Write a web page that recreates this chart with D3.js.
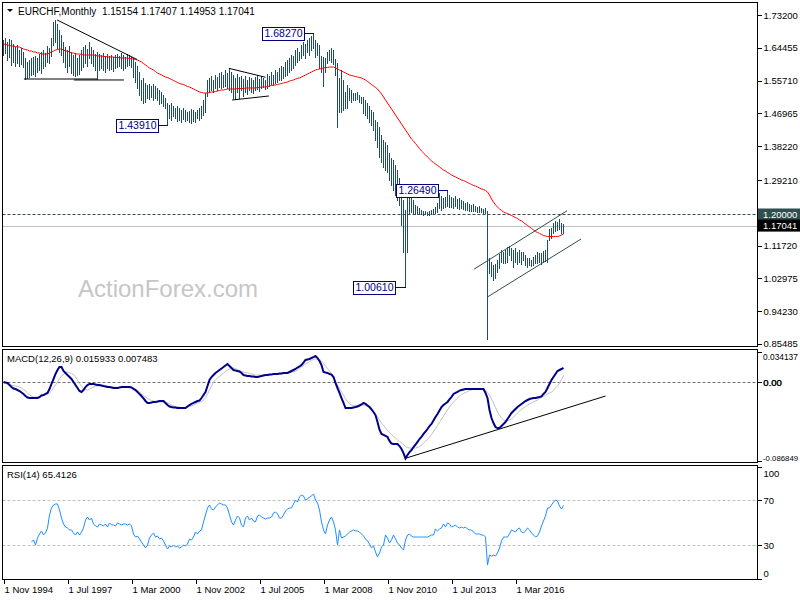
<!DOCTYPE html>
<html><head><meta charset="utf-8">
<script src="https://cdn.jsdelivr.net/npm/d3@7"></script>
<style>
html,body{margin:0;padding:0;background:#fff;}
svg{display:block;font-family:"Liberation Sans",Arial,sans-serif;}
</style></head><body>
<svg id="chart" width="800" height="600"></svg>
<script>
// ---------------- DATA ----------------
const symbolName = "EURCHF,Monthly";
const lastOHLC = ["1.15154", "1.17407", "1.14953", "1.17041"];

const highs = [
1.665,1.671,1.660,1.668,1.665,1.655,1.647,1.652,1.639,1.644,
1.633,1.617,1.607,1.612,1.617,1.620,1.623,1.617,1.628,1.633,
1.639,1.631,1.649,1.644,1.671,1.713,1.719,1.708,1.692,1.679,
1.660,1.647,1.639,1.649,1.633,1.625,1.631,1.617,1.625,1.639,
1.647,1.652,1.641,1.660,1.647,1.639,1.628,1.633,1.628,1.625,
1.631,1.623,1.628,1.623,1.625,1.620,1.625,1.628,1.623,1.631,
1.625,1.620,1.628,1.625,1.620,1.617,1.607,1.596,1.580,1.559,
1.564,1.551,1.545,1.548,1.543,1.548,1.543,1.537,1.532,1.527,
1.519,1.511,1.497,1.492,1.497,1.489,1.484,1.489,1.484,1.479,
1.484,1.479,1.473,1.476,1.481,1.479,1.473,1.479,1.484,1.489,
1.505,1.524,1.559,1.564,1.569,1.559,1.572,1.567,1.577,1.580,
1.572,1.585,1.577,1.591,1.580,1.572,1.564,1.575,1.567,1.569,
1.561,1.569,1.559,1.567,1.564,1.559,1.567,1.572,1.561,1.569,
1.564,1.559,1.575,1.569,1.580,1.572,1.585,1.580,1.591,1.596,
1.593,1.607,1.612,1.617,1.625,1.623,1.639,1.644,1.633,1.652,
1.660,1.655,1.665,1.671,1.676,1.6827,1.665,1.657,1.652,1.623,
1.620,1.617,1.633,1.639,1.644,1.639,1.615,1.604,1.564,1.585,
1.559,1.527,1.545,1.537,1.532,1.524,1.524,1.527,1.519,1.513,
1.513,1.505,1.497,1.489,1.479,1.473,1.452,1.447,1.433,1.412,
1.399,1.393,1.385,1.364,1.351,1.345,1.332,1.319,1.297,1.252,
1.239,1.212,1.252,1.260,1.252,1.239,1.225,1.223,1.217,1.212,
1.209,1.209,1.207,1.209,1.212,1.215,1.220,1.231,1.257,1.249,
1.244,1.247,1.2649,1.252,1.247,1.244,1.249,1.241,1.244,1.239,
1.236,1.231,1.233,1.228,1.225,1.228,1.223,1.220,1.223,1.217,
1.215,1.217,1.209,1.084,1.073,1.065,1.068,1.079,1.095,1.105,
1.100,1.105,1.113,1.116,1.111,1.105,1.111,1.100,1.105,1.100,
1.100,1.092,1.084,1.084,1.079,1.087,1.092,1.100,1.097,1.097,
1.103,1.105,1.132,1.161,1.164,1.177,1.183,1.180,1.188,1.177,1.17407];

const lows = [
1.625,1.631,1.612,1.620,1.599,1.607,1.596,1.604,1.596,1.601,
1.593,1.561,1.564,1.567,1.572,1.575,1.569,1.580,1.585,1.577,
1.591,1.596,1.607,1.604,1.623,1.652,1.660,1.644,1.633,1.625,
1.607,1.593,1.580,1.596,1.577,1.572,1.569,1.572,1.575,1.585,
1.593,1.604,1.596,1.617,1.604,1.596,1.585,1.561,1.585,1.591,
1.585,1.580,1.591,1.585,1.588,1.583,1.591,1.593,1.596,1.591,
1.585,1.591,1.596,1.599,1.593,1.567,1.553,1.537,1.519,1.505,
1.497,1.500,1.511,1.508,1.513,1.505,1.511,1.505,1.495,1.497,
1.489,1.484,1.4391,1.457,1.452,1.463,1.457,1.449,1.452,1.447,
1.455,1.449,1.452,1.447,1.444,1.449,1.447,1.457,1.452,1.457,
1.465,1.473,1.516,1.527,1.532,1.527,1.537,1.532,1.540,1.537,
1.540,1.543,1.537,1.532,1.527,1.511,1.508,1.527,1.511,1.532,
1.516,1.527,1.521,1.532,1.527,1.524,1.532,1.535,1.529,1.537,
1.540,1.535,1.537,1.543,1.548,1.545,1.551,1.553,1.559,1.559,
1.564,1.569,1.572,1.580,1.585,1.591,1.599,1.607,1.612,1.617,
1.625,1.617,1.633,1.625,1.639,1.644,1.620,1.625,1.591,1.580,
1.543,1.580,1.604,1.612,1.607,1.601,1.572,1.433,1.473,1.473,
1.479,1.484,1.484,1.505,1.500,1.505,1.505,1.508,1.500,1.497,
1.471,1.465,1.457,1.447,1.439,1.425,1.399,1.380,1.353,1.340,
1.327,1.319,1.313,1.292,1.279,1.265,1.252,1.239,1.225,1.172,
1.100,1.0061,1.100,1.201,1.207,1.204,1.201,1.201,1.201,1.201,
1.199,1.201,1.199,1.199,1.201,1.201,1.204,1.207,1.217,1.212,
1.217,1.220,1.223,1.220,1.220,1.217,1.223,1.217,1.215,1.217,
1.215,1.212,1.212,1.209,1.209,1.209,1.209,1.207,1.207,1.207,
1.204,1.204,0.868,1.044,1.036,1.025,1.031,1.047,1.057,1.073,
1.071,1.071,1.073,1.092,1.079,1.060,1.073,1.068,1.073,1.068,
1.079,1.065,1.060,1.065,1.063,1.065,1.071,1.071,1.073,1.068,
1.073,1.076,1.073,1.132,1.137,1.151,1.156,1.159,1.161,1.151,1.14953];

const maValues = [
1.6547,1.6533,1.6520,1.6507,1.6493,1.6493,1.6480,1.6467,1.6467,1.6440,
1.6413,1.6400,1.6387,1.6360,1.6360,1.6333,1.6333,1.6307,1.6307,1.6280,
1.6280,1.6280,1.6280,1.6307,1.6333,1.6360,1.6387,1.6400,1.6413,1.6413,
1.6387,1.6360,1.6360,1.6333,1.6307,1.6307,1.6280,1.6280,1.6280,1.6267,
1.6253,1.6253,1.6253,1.6253,1.6253,1.6253,1.6240,1.6227,1.6227,1.6227,
1.6213,1.6213,1.6200,1.6200,1.6200,1.6200,1.6187,1.6187,1.6187,1.6173,
1.6173,1.6173,1.6173,1.6160,1.6147,1.6147,1.6133,1.6120,1.6093,1.6067,
1.6027,1.5987,1.5947,1.5907,1.5880,1.5853,1.5813,1.5773,1.5747,1.5720,
1.5693,1.5667,1.5653,1.5627,1.5600,1.5573,1.5547,1.5520,1.5493,1.5480,
1.5467,1.5440,1.5413,1.5400,1.5373,1.5347,1.5320,1.5293,1.5267,1.5253,
1.5240,1.5240,1.5240,1.5253,1.5267,1.5267,1.5280,1.5293,1.5307,1.5320,
1.5320,1.5333,1.5347,1.5347,1.5347,1.5347,1.5347,1.5360,1.5360,1.5360,
1.5360,1.5373,1.5373,1.5373,1.5373,1.5373,1.5373,1.5387,1.5387,1.5400,
1.5400,1.5400,1.5413,1.5427,1.5440,1.5453,1.5453,1.5467,1.5480,1.5493,
1.5507,1.5520,1.5533,1.5560,1.5573,1.5587,1.5613,1.5627,1.5640,1.5667,
1.5693,1.5720,1.5747,1.5773,1.5800,1.5827,1.5853,1.5867,1.5880,1.5893,
1.5907,1.5920,1.5920,1.5933,1.5933,1.5933,1.5907,1.5880,1.5853,1.5827,
1.5800,1.5773,1.5747,1.5720,1.5707,1.5693,1.5680,1.5667,1.5653,1.5640,
1.5613,1.5587,1.5547,1.5507,1.5467,1.5427,1.5387,1.5347,1.5280,1.5213,
1.5133,1.5053,1.4973,1.4893,1.4813,1.4733,1.4653,1.4573,1.4493,1.4413,
1.4333,1.4253,1.4173,1.4093,1.4013,1.3960,1.3893,1.3827,1.3760,1.3693,
1.3640,1.3587,1.3533,1.3480,1.3427,1.3387,1.3347,1.3307,1.3267,1.3227,
1.3187,1.3160,1.3120,1.3093,1.3053,1.3027,1.3000,1.2973,1.2947,1.2920,
1.2907,1.2880,1.2853,1.2827,1.2800,1.2773,1.2760,1.2733,1.2707,1.2680,
1.2667,1.2640,1.2600,1.2520,1.2413,1.2333,1.2253,1.2200,1.2147,1.2107,
1.2067,1.2040,1.2027,1.2000,1.1973,1.1947,1.1920,1.1893,1.1853,1.1827,
1.1787,1.1747,1.1707,1.1667,1.1627,1.1587,1.1547,1.1520,1.1493,1.1467,
1.1440,1.1427,1.1413,1.1413,1.1413,1.1413,1.1413,1.1413,1.1427,1.1453,1.1480];

const macdMain = [
0.0003,-0.0003,-0.0008,-0.0031,-0.0053,-0.0069,-0.0075,-0.0086,-0.0097,-0.0114,
-0.0130,-0.0153,-0.0169,-0.0175,-0.0175,-0.0175,-0.0175,-0.0175,-0.0164,-0.0147,
-0.0142,-0.0130,-0.0119,-0.0075,-0.0019,0.0036,0.0092,0.0136,0.0169,0.0169,
0.0125,0.0103,0.0080,0.0058,0.0036,0.0003,-0.0031,-0.0064,-0.0097,-0.0108,
-0.0086,-0.0053,-0.0031,-0.0019,-0.0019,-0.0019,-0.0025,-0.0031,-0.0031,-0.0036,
-0.0042,-0.0047,-0.0053,-0.0053,-0.0058,-0.0064,-0.0064,-0.0064,-0.0058,-0.0053,
-0.0053,-0.0053,-0.0053,-0.0053,-0.0058,-0.0075,-0.0086,-0.0108,-0.0130,-0.0153,
-0.0180,-0.0208,-0.0230,-0.0230,-0.0225,-0.0219,-0.0219,-0.0214,-0.0208,-0.0208,
-0.0208,-0.0230,-0.0253,-0.0269,-0.0275,-0.0280,-0.0280,-0.0286,-0.0286,-0.0286,
-0.0286,-0.0286,-0.0269,-0.0253,-0.0241,-0.0230,-0.0219,-0.0208,-0.0203,-0.0175,
-0.0142,-0.0108,-0.0042,0.0025,0.0058,0.0080,0.0103,0.0119,0.0136,0.0153,
0.0169,0.0186,0.0203,0.0180,0.0158,0.0136,0.0130,0.0125,0.0119,0.0103,
0.0080,0.0075,0.0069,0.0069,0.0064,0.0064,0.0058,0.0058,0.0064,0.0069,
0.0075,0.0080,0.0080,0.0086,0.0086,0.0092,0.0092,0.0092,0.0097,0.0097,
0.0103,0.0103,0.0103,0.0114,0.0125,0.0136,0.0147,0.0164,0.0175,0.0191,
0.0219,0.0247,0.0253,0.0258,0.0269,0.0280,0.0291,0.0269,0.0236,0.0191,
0.0114,0.0108,0.0103,0.0092,0.0086,0.0058,-0.0008,-0.0064,-0.0119,-0.0175,
-0.0230,-0.0286,-0.0286,-0.0286,-0.0286,-0.0280,-0.0275,-0.0269,-0.0258,-0.0247,
-0.0230,-0.0241,-0.0258,-0.0275,-0.0302,-0.0330,-0.0364,-0.0441,-0.0527,-0.0574,
-0.0585,-0.0596,-0.0607,-0.0651,-0.0680,-0.0685,-0.0685,-0.0685,-0.0708,-0.0741,
-0.0786,-0.0845,-0.0808,-0.0775,-0.0752,-0.0719,-0.0691,-0.0663,-0.0630,-0.0607,
-0.0574,-0.0547,-0.0519,-0.0486,-0.0463,-0.0425,-0.0386,-0.0352,-0.0314,-0.0275,
-0.0253,-0.0236,-0.0219,-0.0191,-0.0164,-0.0130,-0.0119,-0.0108,-0.0092,-0.0086,
-0.0080,-0.0075,-0.0075,-0.0075,-0.0075,-0.0075,-0.0075,-0.0075,-0.0075,-0.0075,
-0.0075,-0.0119,-0.0175,-0.0308,-0.0397,-0.0453,-0.0497,-0.0508,-0.0508,-0.0486,
-0.0463,-0.0441,-0.0408,-0.0375,-0.0341,-0.0319,-0.0297,-0.0275,-0.0258,-0.0241,
-0.0225,-0.0208,-0.0197,-0.0186,-0.0180,-0.0175,-0.0175,-0.0169,-0.0164,-0.0158,
-0.0130,-0.0108,-0.0064,-0.0019,0.0025,0.0058,0.0092,0.0125,0.0136,0.0147,0.015933];

const macdSignal = [
-0.0008,-0.0014,-0.0019,-0.0025,-0.0031,-0.0036,-0.0042,-0.0047,-0.0053,-0.0064,
-0.0080,-0.0097,-0.0119,-0.0142,-0.0153,-0.0164,-0.0164,-0.0164,-0.0158,-0.0153,
-0.0147,-0.0142,-0.0130,-0.0119,-0.0097,-0.0064,-0.0031,0.0003,0.0036,0.0069,
0.0092,0.0108,0.0114,0.0108,0.0097,0.0086,0.0058,0.0025,-0.0014,-0.0042,
-0.0064,-0.0080,-0.0086,-0.0075,-0.0064,-0.0053,-0.0047,-0.0042,-0.0042,-0.0042,
-0.0042,-0.0042,-0.0042,-0.0047,-0.0047,-0.0053,-0.0053,-0.0058,-0.0058,-0.0058,
-0.0058,-0.0058,-0.0058,-0.0058,-0.0058,-0.0064,-0.0075,-0.0092,-0.0108,-0.0130,
-0.0147,-0.0164,-0.0180,-0.0191,-0.0203,-0.0208,-0.0214,-0.0219,-0.0219,-0.0219,
-0.0219,-0.0225,-0.0230,-0.0241,-0.0253,-0.0264,-0.0269,-0.0275,-0.0275,-0.0280,
-0.0280,-0.0280,-0.0275,-0.0269,-0.0264,-0.0253,-0.0241,-0.0230,-0.0225,-0.0214,
-0.0197,-0.0169,-0.0130,-0.0086,-0.0042,0.0003,0.0025,0.0047,0.0064,0.0080,
0.0103,0.0119,0.0136,0.0147,0.0153,0.0158,0.0153,0.0142,0.0130,0.0119,
0.0114,0.0108,0.0103,0.0097,0.0092,0.0086,0.0080,0.0080,0.0080,0.0080,
0.0080,0.0080,0.0080,0.0080,0.0086,0.0086,0.0086,0.0092,0.0092,0.0092,
0.0097,0.0103,0.0103,0.0108,0.0114,0.0114,0.0125,0.0136,0.0153,0.0169,
0.0186,0.0203,0.0214,0.0230,0.0241,0.0253,0.0258,0.0258,0.0253,0.0236,
0.0208,0.0180,0.0153,0.0125,0.0092,0.0047,0.0008,-0.0031,-0.0069,-0.0108,
-0.0142,-0.0180,-0.0214,-0.0241,-0.0253,-0.0258,-0.0258,-0.0258,-0.0258,-0.0253,
-0.0253,-0.0258,-0.0269,-0.0286,-0.0308,-0.0330,-0.0358,-0.0386,-0.0419,-0.0452,
-0.0480,-0.0508,-0.0536,-0.0558,-0.0580,-0.0602,-0.0619,-0.0641,-0.0658,-0.0674,
-0.0691,-0.0713,-0.0724,-0.0730,-0.0730,-0.0730,-0.0730,-0.0724,-0.0713,-0.0697,
-0.0674,-0.0652,-0.0635,-0.0608,-0.0580,-0.0547,-0.0513,-0.0480,-0.0447,-0.0408,
-0.0375,-0.0341,-0.0308,-0.0275,-0.0247,-0.0219,-0.0197,-0.0175,-0.0153,-0.0136,
-0.0125,-0.0114,-0.0103,-0.0092,-0.0086,-0.0080,-0.0080,-0.0075,-0.0075,-0.0075,
-0.0075,-0.0086,-0.0114,-0.0142,-0.0186,-0.0230,-0.0280,-0.0330,-0.0364,-0.0397,
-0.0419,-0.0425,-0.0425,-0.0419,-0.0408,-0.0386,-0.0364,-0.0341,-0.0319,-0.0302,
-0.0286,-0.0269,-0.0253,-0.0241,-0.0230,-0.0219,-0.0208,-0.0197,-0.0180,-0.0169,
-0.0158,-0.0147,-0.0130,-0.0119,-0.0108,-0.0086,-0.0064,-0.0042,-0.0008,0.0031,0.007483];

const rsiValues = [
null,null,null,null,null,null,null,null,null,null,
null,null,null,null,32.9,34.7,30.2,36.4,40.0,42.7,
39.1,40.9,45.3,56.9,63.1,65.8,66.7,66.7,61.3,54.2,
48.9,46.2,45.3,43.6,43.6,40.9,39.1,41.8,39.1,41.8,
45.3,52.4,55.1,52.4,54.2,48.9,47.1,46.2,48.9,48.0,
47.1,48.9,46.2,49.8,48.0,48.0,47.1,49.8,48.9,48.0,
48.9,48.9,48.0,48.9,47.1,40.0,37.3,38.2,35.6,32.9,
30.2,27.6,30.2,36.4,39.1,40.9,37.3,38.2,35.6,36.4,
33.8,30.2,26.7,29.3,28.4,30.2,28.4,29.3,27.6,28.4,
30.2,29.3,31.1,35.6,34.7,37.3,41.8,40.0,42.7,43.6,
50.7,56.9,63.1,65.8,62.2,61.3,64.0,65.8,67.6,66.7,
65.8,65.8,63.1,56.9,50.7,48.0,52.4,56.0,54.2,48.0,
46.2,54.2,56.0,52.4,54.2,51.6,50.7,56.0,56.9,55.1,
54.2,53.3,54.2,54.2,55.1,58.7,59.6,57.8,54.2,54.2,
56.9,60.4,62.2,63.1,63.1,66.7,70.2,68.4,72.9,74.7,
73.8,70.2,71.1,72.9,73.8,75.6,70.2,67.6,61.3,50.7,
43.6,40.0,48.0,52.4,55.1,50.7,43.6,30.2,43.6,36.4,
37.3,38.2,40.0,41.8,42.7,43.6,42.7,42.7,41.8,40.0,
38.2,35.6,33.8,31.1,27.6,29.3,24.0,19.6,23.1,28.4,
30.2,39.1,36.4,32.0,34.7,39.1,35.6,32.0,30.2,27.6,
25.8,34.7,39.1,40.0,38.2,37.3,37.3,37.3,37.3,37.3,
37.3,37.3,37.3,38.2,39.1,39.1,44.4,42.7,44.4,45.3,
48.9,46.2,49.8,48.9,46.2,47.1,48.0,46.2,45.3,46.2,
45.3,46.2,44.4,43.6,43.6,41.8,40.0,40.0,40.0,39.1,
39.1,37.3,12.4,21.3,20.4,21.3,20.4,23.1,27.6,33.8,
37.3,37.3,37.3,40.0,43.6,42.7,41.8,44.4,45.3,41.8,
40.9,42.7,45.3,43.6,40.9,39.1,37.3,38.2,41.8,47.1,
51.6,56.0,63.1,63.1,65.8,68.4,70.2,69.3,64.9,62.2,65.4126];

const priceTicks = [1.73200, 1.64455, 1.55710, 1.46965, 1.38220, 1.29210, 1.11720, 1.02975, 0.94230, 0.85485];
const levelPrice = 1.20000;
const lastPrice = 1.17041;
const macdTicks = [0.034137, 0, -0.086849];
const macdTickLabels = ["0.034137", "0.00", "-0.086849"];
const rsiTicks = [100, 70, 30, 0];
const rsiLevels = [70, 30];
const xTickBars = [0, 32, 64, 96, 128, 160, 192, 224, 256];
const xTickLabels = ["1 Nov 1994","1 Jul 1997","1 Mar 2000","1 Nov 2002","1 Jul 2005","1 Mar 2008","1 Nov 2010","1 Jul 2013","1 Mar 2016"];
const calloutBars = [155, 82, 222, 201];
const calloutValues = [1.6827, 1.4391, 1.2649, 1.0061];
// trendlines: [barIndex1, value1, barIndex2, value2]
const priceTrendlines = [[26.8,1.7187,66.8,1.6133],[10.2,1.5613,46.8,1.5613],[35.2,1.5587,60.2,1.5587],[112.7,1.5898,131,1.5659],[114.3,1.5053,132.7,1.5160]];
const channelLines = [[235.2,1.0539,281.8,1.2101],[242.2,0.9808,288.8,1.1347]];
const macdTrendlines = [[201,-0.0844,301,-0.0153]];

// ---------------- LAYOUT ----------------
const svg = d3.select("#chart");
const L = 2.5, R = 757.5;
const P = {main:[2.5,346.5], macd:[349.5,462.5], rsi:[465.5,579.5]};
const n = highs.length;

const x = d3.scaleLinear().domain([0, 377]).range([3.5, 757.5]);
const yP = d3.scaleLinear().domain([0.848, 1.7653]).range([346.5, 2.5]);
const yM = d3.scaleLinear().domain([-0.086849, 0.034137]).range([460.5, 351.5]);
const yR = d3.scaleLinear().domain([0, 100]).range([579, 466.5]);

const defs = svg.append("defs");
Object.entries(P).forEach(([k,[t,b]]) => {
  defs.append("clipPath").attr("id","clip-"+k).append("rect")
    .attr("x", L+0.5).attr("y", t+0.5).attr("width", R-L-1).attr("height", b-t-1);
});

const FS = "9.5px";

// ---------- MAIN PANEL ----------
const gMain = svg.append("g").attr("clip-path","url(#clip-main)");

// watermark
svg.append("text").attr("x",78).attr("y",297).attr("font-size","24px")
  .attr("fill","#c6c6c6").text("ActionForex.com");

// 1.2 dashed level & last price line
gMain.append("line").attr("x1",L).attr("x2",R)
  .attr("y1",Math.round(yP(levelPrice))+0.5).attr("y2",Math.round(yP(levelPrice))+0.5)
  .attr("stroke","#2f4f4f").attr("stroke-dasharray","3,2");
gMain.append("line").attr("x1",L).attr("x2",R)
  .attr("y1",Math.round(yP(lastPrice))+0.5).attr("y2",Math.round(yP(lastPrice))+0.5)
  .attr("stroke","#c0c0c0");

// bars
gMain.selectAll("line.bar").data(d3.range(n)).join("line").attr("class","bar")
  .attr("x1", i => x(i)).attr("x2", i => x(i))
  .attr("y1", i => Math.round(yP(highs[i])))
  .attr("y2", i => Math.round(yP(lows[i])) + 1)
  .attr("stroke", "#1e4d68").attr("stroke-width", 1)
  .attr("shape-rendering","crispEdges");

// moving average
gMain.append("path").datum(maValues)
  .attr("d", d3.line().x((d,i) => x(i)).y(d => yP(d)))
  .attr("fill","none").attr("stroke","#ff0000").attr("stroke-width",1);

// trendlines
gMain.selectAll("line.tl").data(priceTrendlines).join("line").attr("class","tl")
  .attr("x1", d => x(d[0])).attr("y1", d => yP(d[1]))
  .attr("x2", d => x(d[2])).attr("y2", d => yP(d[3]))
  .attr("stroke","#000").attr("stroke-width",1);
gMain.selectAll("line.ch").data(channelLines).join("line").attr("class","ch")
  .attr("x1", d => x(d[0])).attr("y1", d => yP(d[1]))
  .attr("x2", d => x(d[2])).attr("y2", d => yP(d[3]))
  .attr("stroke","#2f4f4f").attr("stroke-width",1);

// callouts
const fmt5 = d3.format(".5f");
calloutBars.forEach((b, k) => {
  const cx = x(b), cy = Math.round(yP(calloutValues[k])) + 0.5;
  const right = Math.round(cx - 10) + 0.5, w = 42, h = 12;
  gMain.append("line").attr("x1", right).attr("x2", cx).attr("y1", cy).attr("y2", cy)
    .attr("stroke","#000080").attr("shape-rendering","crispEdges");
  gMain.append("rect").attr("x", right - w).attr("y", cy - 6.5).attr("width", w).attr("height", h + 1)
    .attr("fill","#fff").attr("stroke","#000080").attr("shape-rendering","crispEdges");
  gMain.append("text").attr("x", right - w/2).attr("y", cy + 3.8).attr("text-anchor","middle")
    .attr("font-size","10.5px").attr("fill","#000080").text(fmt5(calloutValues[k]));
});

// title
svg.append("path").attr("d","M7,9L13,9L10,12Z").attr("fill","#000");
svg.append("text").attr("x",18).attr("y",14.5).attr("font-size","10px")
  .style("white-space","pre").attr("fill","#000")
  .text(symbolName + "  " + lastOHLC.join(" "));

// ---------- MACD PANEL ----------
const gM = svg.append("g").attr("clip-path","url(#clip-macd)");
gM.append("line").attr("x1",L).attr("x2",R).attr("y1",Math.round(yM(0))+0.5).attr("y2",Math.round(yM(0))+0.5)
  .attr("stroke","#707070").attr("stroke-dasharray","3,2");
gM.append("path").datum(macdSignal)
  .attr("d", d3.line().x((d,i)=>x(i)).y(d=>yM(d)))
  .attr("fill","none").attr("stroke","#c0c0c0").attr("stroke-width",1);
gM.append("path").datum(macdMain)
  .attr("d", d3.line().x((d,i)=>x(i)).y(d=>yM(d)))
  .attr("fill","none").attr("stroke","#00008b").attr("stroke-width",2);
gM.selectAll("line.mt").data(macdTrendlines).join("line").attr("class","mt")
  .attr("x1", d => x(d[0])).attr("y1", d => yM(d[1]))
  .attr("x2", d => x(d[2])).attr("y2", d => yM(d[3]))
  .attr("stroke","#000").attr("stroke-width",1);
svg.append("text").attr("x",7).attr("y",361.5).attr("font-size",FS).attr("fill","#000")
  .text("MACD(12,26,9) " + d3.format(".6f")(macdMain[n-1]) + " " + d3.format(".6f")(macdSignal[n-1]));

// ---------- RSI PANEL ----------
const gR = svg.append("g").attr("clip-path","url(#clip-rsi)");
gR.selectAll("line.lvl").data(rsiLevels).join("line").attr("class","lvl")
  .attr("x1",L).attr("x2",R).attr("y1",d=>Math.round(yR(d))+0.5).attr("y2",d=>Math.round(yR(d))+0.5)
  .attr("stroke","#c0c0c0").attr("stroke-dasharray","3,2");
gR.append("path").datum(rsiValues)
  .attr("d", d3.line().defined(d => d != null).x((d,i)=>x(i)).y(d=>yR(d)))
  .attr("fill","none").attr("stroke","#1e90ff").attr("stroke-width",1);
svg.append("text").attr("x",7).attr("y",477.5).attr("font-size",FS).attr("fill","#000")
  .text("RSI(14) " + rsiValues[n-1]);

// ---------- FRAMES ----------
Object.values(P).forEach(([t,b]) => {
  svg.append("rect").attr("x",L).attr("y",t).attr("width",R-L).attr("height",b-t)
    .attr("fill","none").attr("stroke","#000").attr("shape-rendering","crispEdges");
});

// ---------- AXES ----------
function styleAxis(g){
  g.select(".domain").remove();
  g.selectAll("text").attr("font-size",FS).attr("font-family",'"Liberation Sans",Arial,sans-serif').attr("fill","#000");
  g.selectAll("line").attr("stroke","#000").attr("shape-rendering","crispEdges");
}
const axP = svg.append("g").attr("transform",`translate(${R},0)`)
  .call(d3.axisRight(yP).tickValues(priceTicks).tickSize(4).tickPadding(2).tickFormat(fmt5));
styleAxis(axP);

const axM = svg.append("g").attr("transform",`translate(${R},0)`)
  .call(d3.axisRight(yM).tickValues(macdTicks).tickSize(4).tickPadding(1.5).tickFormat((d,k)=>macdTickLabels[k]));
styleAxis(axM);
axM.selectAll("text").attr("y", d => {
  const pos = yM(d); const c = Math.max(P.macd[0]+7.5, Math.min(P.macd[1]-4.5, pos)); return c - pos;
}).each(function(d){
  if (d !== 0) d3.select(this).attr("font-size", d < 0 ? "7.8px" : "8.4px");
});
// zero label drawn slightly heavier
axM.selectAll(".tick").filter(d => d === 0).append("text")
  .attr("x",6.1).attr("dy","0.32em").attr("font-size",FS).attr("fill","#000").text("0.00");

const axR = svg.append("g").attr("transform",`translate(${R},0)`)
  .call(d3.axisRight(yR).tickValues(rsiTicks).tickSize(4).tickPadding(2).tickFormat(d3.format("d")));
styleAxis(axR);
axR.selectAll("text").attr("y", d => {
  const pos = yR(d); const c = Math.max(P.rsi[0]+7.5, Math.min(P.rsi[1]-6.5, pos)); return c - pos;
});

// highlighted price labels
[[levelPrice,"#2f4f4f"],[lastPrice,"#000"]].forEach(([v,col]) => {
  const cy = yP(v);
  svg.append("rect").attr("x",758).attr("y",cy-6).attr("width",42).attr("height",12).attr("fill",col);
  svg.append("text").attr("x",763).attr("y",cy).attr("dy","0.35em").attr("font-size",FS)
    .attr("fill","#fff").text(fmt5(v));
});

// x axis
const axX = svg.append("g").attr("transform",`translate(0,${P.rsi[1]})`)
  .call(d3.axisBottom(x).tickValues(xTickBars).tickSize(4).tickPadding(3).tickFormat((d,k)=>xTickLabels[k]));
styleAxis(axX);
axX.selectAll("text").attr("text-anchor","start").attr("x",0.5);
</script>
</body></html>
